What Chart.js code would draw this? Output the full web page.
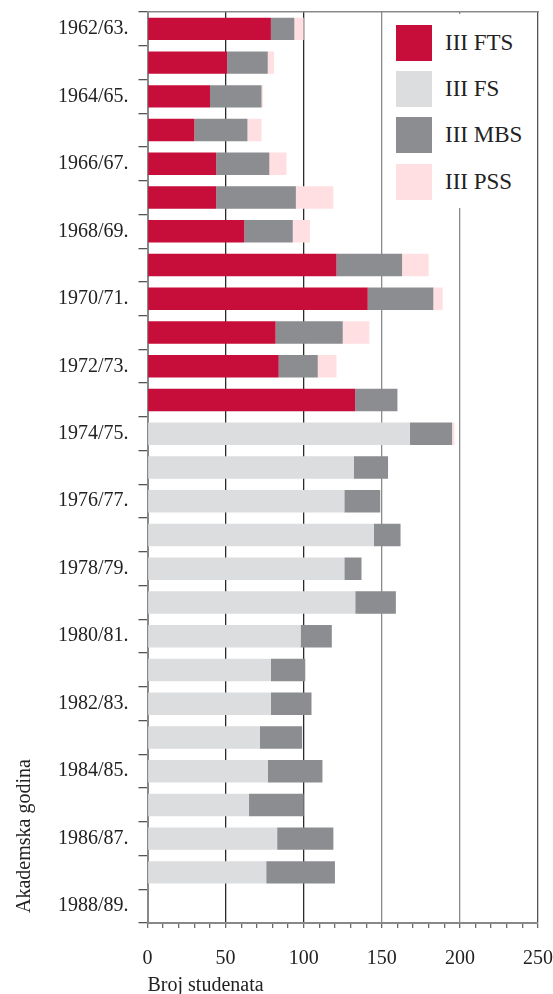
<!DOCTYPE html>
<html>
<head>
<meta charset="utf-8">
<script src="https://cdn.jsdelivr.net/npm/chart.js@4.4.0/dist/chart.umd.min.js"></script>
<style>
  body { margin: 0; background: #fff; }
  #wrap { position: relative; width: 553px; height: 994px; }
  #legend { position: absolute; left: 385px; top: 14px; width: 151px; height: 194px; background: #fff;
            font-family: "Liberation Serif", serif; font-size: 23px; color: #222; }
  .item { position: absolute; left: 11px; height: 36px; line-height: 36px; white-space: nowrap; }
  .item span { display: inline-block; width: 36px; height: 36px; vertical-align: top; margin-right: 13px; }
</style>
</head>
<body>
<div id="wrap">
  <canvas id="graph_ID" width="553" height="994"></canvas>
  <div id="legend"></div>
</div>
<script>
var years = ['1962/63.', '1963/64.', '1964/65.', '1965/66.', '1966/67.', '1967/68.', '1968/69.',
             '1969/70.', '1970/71.', '1971/72.', '1972/73.', '1973/74.', '1974/75.', '1975/76.',
             '1976/77.', '1977/78.', '1978/79.', '1979/80.', '1980/81.', '1981/82.', '1982/83.',
             '1983/84.', '1984/85.', '1985/86.', '1986/87.', '1987/88.', '1988/89.'];

var fts = [79, 51, 40, 30, 44, 44, 62, 121, 141, 82, 84, 133,
           null, null, null, null, null, null, null, null, null, null, null, null, null, null, null];
var fs  = [null, null, null, null, null, null, null, null, null, null, null, null,
           168, 132, 126, 145, 126, 133, 98, 79, 79, 72, 77, 65, 83, 76, null];
var mbs = [15, 26, 33, 34, 34, 51, 31, 42, 42, 43, 25, 27,
           27, 22, 23, 17, 11, 26, 20, 22, 26, 27, 35, 35, 36, 44, null];
var pss = [6, 4, 1, 9, 11, 24, 11, 17, 6, 17, 12, null,
           1.5, null, null, null, null, null, null, null, null, null, null, null, null, null, null];

var seriesNames = ['III FTS', 'III FS', 'III MBS', 'III PSS'];
var seriesColors = ['#C70D3A', '#DCDDDF', '#8C8D91', '#FFDFE2'];

var serif = 'Liberation Serif';

function bar(i, data) {
  return {
    label: seriesNames[i],
    data: data,
    backgroundColor: seriesColors[i],
    borderWidth: 0,
    barPercentage: 0.665,
    categoryPercentage: 1,
    stack: 's'
  };
}

function gridColor(ctx) {
  var v = ctx.tick ? ctx.tick.value : -1;
  if (v === 50 || v === 100) return '#2b2b2b';
  if (v === 150 || v === 200) return '#8a8a8a';
  if (v === 250) return '#555';
  return 'rgba(0,0,0,0)';
}

var legend = document.getElementById('legend');
seriesNames.forEach(function (n, i) {
  var d = document.createElement('div');
  d.className = 'item';
  d.style.top = [11, 57, 103, 150][i] + 'px';
  d.innerHTML = '<span style="background:' + seriesColors[i] + '"></span>' + n;
  legend.appendChild(d);
});

var ctx = document.getElementById('graph_ID').getContext('2d');
var graphique = new Chart(ctx, {
  type: 'bar',
  data: {
    labels: years,
    datasets: [bar(0, fts), bar(1, fs), bar(2, mbs), bar(3, pss)]
  },
  options: {
    indexAxis: 'y',
    responsive: false,
    animation: false,
    layout: { padding: { top: 12, right: 15, left: 0, bottom: 0 } },
    plugins: { legend: { display: false }, tooltip: { enabled: false } },
    scales: {
      x: {
        stacked: true,
        min: 0,
        max: 250,
        ticks: {
          stepSize: 10,
          autoSkip: false,
          maxRotation: 0,
          padding: 19,
          color: '#222',
          font: { family: serif, size: 20 },
          callback: function (v) { return v % 50 === 0 ? v : ''; }
        },
        grid: { color: gridColor, lineWidth: 1.3, tickColor: '#6a6a6a', tickLength: 5, tickWidth: 1.3 },
        border: { color: '#888', width: 2 },
        title: {
          display: true, text: 'Broj studenata', align: 'start', color: '#222',
          font: { family: serif, size: 20, lineHeight: 1 }, padding: { top: 0, bottom: -2 }
        },
        afterFit: function (s) {
          s.height = 71;
          s.paddingLeft = 0;
          s.paddingRight = 0;
        }
      },
      x2: {
        position: 'top',
        min: 0,
        max: 250,
        ticks: { display: false },
        grid: { drawOnChartArea: false, drawTicks: false },
        border: { color: '#8a8a8a', width: 1.5 },
        afterFit: function (s) {
          s.height = 0;
          s.paddingLeft = 0;
          s.paddingRight = 0;
        }
      },
      y: {
        stacked: true,
        grid: { drawOnChartArea: false, offset: true, tickLength: 9, color: '#555', lineWidth: 1.3 },
        border: { color: '#888', width: 2 },
        ticks: {
          autoSkip: false,
          padding: 10,
          color: '#222',
          font: { family: serif, size: 20 },
          callback: function (v, i) { return i % 2 === 0 ? this.getLabelForValue(v) : ''; }
        },
        title: {
          display: true, text: '\u00a0\u00a0Akademska godina', align: 'start', color: '#222',
          font: { family: serif, size: 20, lineHeight: 1 }, padding: 15
        },
        afterFit: function (s) {
          s.width = 147.5;
          s.paddingTop = 0;
          s.paddingBottom = 0;
        }
      }
    }
  }
});
</script>
</body>
</html>
